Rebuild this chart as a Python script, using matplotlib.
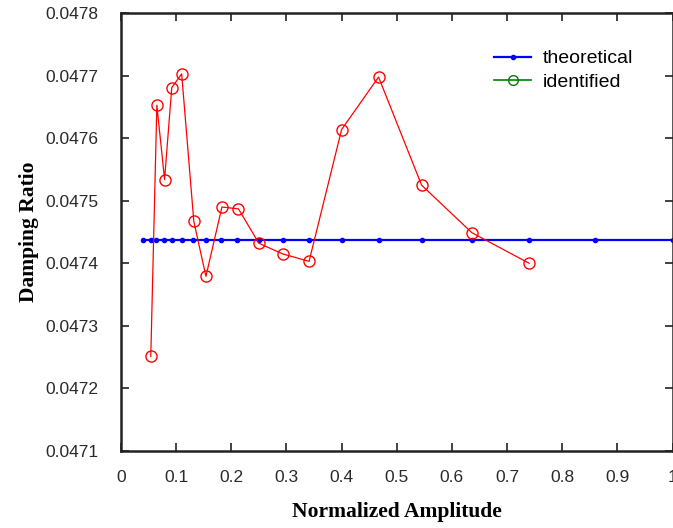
import numpy as np
import matplotlib.pyplot as plt

plt.rcParams['font.family'] = ['Liberation Sans', 'DejaVu Sans']

# identified damping ratio
amp_id = [0.054, 0.065, 0.079, 0.092, 0.110, 0.132, 0.154, 0.183, 0.213,
          0.250, 0.293, 0.341, 0.400, 0.467, 0.545, 0.636, 0.740]
zeta_id = [0.047251, 0.047653, 0.047534, 0.047681, 0.047703, 0.047467,
           0.047379, 0.047490, 0.047487, 0.047432, 0.047415, 0.047403,
           0.047614, 0.047698, 0.047525, 0.047449, 0.047400]

# theoretical damping ratio (constant)
amp_th = [0.040, 0.054, 0.063, 0.078, 0.092, 0.110, 0.131, 0.154, 0.181,
          0.211, 0.250, 0.293, 0.341, 0.400, 0.467, 0.545, 0.636, 0.740,
          0.860, 1.000]
zeta_th = [0.047437] * len(amp_th)

fig = plt.figure(figsize=(6.73, 5.28), dpi=100)
ax = fig.add_axes([0.1798, 0.1464, 0.8195, 0.8284])

ax.plot(amp_th, zeta_th, color='#0000ff', linewidth=1.6, marker='.',
        markersize=6, label='theoretical', zorder=2)
ax.plot(amp_id, zeta_id, color='#ff0000', linewidth=0.9, marker='o',
        markersize=8, markerfacecolor='none', markeredgewidth=1.0, zorder=3)

# legend entry for identified is green in the original
ax.plot([], [], color='#008000', linewidth=1.2, marker='o', markersize=7,
        markerfacecolor='none', label='identified')

ax.set_xlim(0, 1)
ax.set_ylim(0.0471, 0.0478)
ax.set_xticks(np.arange(0, 1.01, 0.1))
ax.set_xticklabels(['0', '0.1', '0.2', '0.3', '0.4', '0.5', '0.6', '0.7',
                    '0.8', '0.9', '1'])
ax.set_yticks(np.arange(0.0471, 0.04781, 0.0001))
ax.set_yticklabels(['%.4f' % v for v in np.arange(0.0471, 0.04781, 0.0001)])

ax.tick_params(direction='in', top=True, right=True, length=6, width=1.2,
               labelsize=12.5, labelcolor='#2a2a2a', color='#222222')
ax.tick_params(axis='x', pad=14)
ax.tick_params(axis='y', pad=16)
for s in ax.spines.values():
    s.set_linewidth(1.8)
    s.set_color('#222222')

ax.set_xlabel('Normalized Amplitude', family='Liberation Serif',
              fontweight='bold', fontsize=15.5, labelpad=12)
ax.set_ylabel('Damping Ratio', family='Liberation Serif',
              fontweight='bold', fontsize=15.5, labelpad=5)

ax.legend(loc='upper left', bbox_to_anchor=(0.659, 0.939), frameon=False,
          fontsize=14, handlelength=1.9, handletextpad=0.6,
          labelspacing=0.3, borderpad=0)

fig.savefig('out.png', dpi=100)
